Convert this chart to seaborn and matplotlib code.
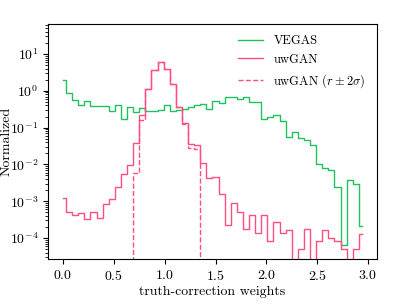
import numpy as np
import pandas as pd
import matplotlib
matplotlib.use("Agg")
import matplotlib.pyplot as plt
import seaborn as sns

plt.rcParams["font.family"] = "serif"
plt.rcParams["font.serif"] = ["cmr10"]
plt.rcParams["mathtext.fontset"] = "cm"
plt.rcParams["axes.formatter.use_mathtext"] = True
plt.rcParams["font.size"] = 10

# 50 bins of width 0.06, bin centres from 0.0 to 2.94
bin_centres = np.arange(50) * 0.06

vegas = [2.02, 0.88, 0.58, 0.42, 0.54, 0.38, 0.39, 0.38, 0.29, 0.42,
         0.175, 0.37, 0.27, 0.35, 0.28, 0.29, 0.30, 0.41, 0.28, 0.30,
         0.33, 0.36, 0.42, 0.43, 0.33, 0.53, 0.46, 0.70, 0.70, 0.60,
         0.67, 0.49, 0.49, 0.175, 0.195, 0.215, 0.153, 0.055, 0.076, 0.053,
         0.046, 0.033, 0.0102, 0.0078, 0.0071, 0.0024, 6.6e-5, 0.0038, 0.003, 2.1e-4]

uwgan = [1.25e-3, 5.2e-4, 4.1e-4, 4.9e-4, 3.2e-4, 5.2e-4, 3.6e-4, 8.3e-4, 1.15e-3, 2.4e-3,
         5.5e-3, 9.5e-3, 0.038, 0.215, 1.1, 3.7, 6.0, 4.0, 1.55, 0.37,
         0.135, 0.037, 0.033, 0.0108, 4.3e-3, 4.6e-3, 1.6e-3, 2.3e-4, 9.2e-4, 5.1e-4,
         1.8e-4, 4.3e-4, 1.38e-4, 4.2e-4, 8.5e-5, 2.7e-4, 1.4e-4, 1.65e-4, 0, 5.1e-5,
         1.8e-4, 0, 8.5e-5, 1.65e-4, 1.0e-4, 8.2e-5, 5.1e-5, 0, 5.1e-5, 1.3e-4]

uwgan_2sigma = [0] * 12 + [0.006, 0.165, 1.1, 3.7, 6.0, 4.0, 1.55, 0.37,
                           0.125, 0.028, 0.027] + [0] * 27

green = "#1fc25e"
pink = "#ff4f7f"

df = pd.DataFrame({"w": bin_centres, "vegas": vegas, "uwgan": uwgan,
                   "uwgan_2s": uwgan_2sigma})

fig = plt.figure(figsize=(4.07, 3.05), dpi=100)
ax = fig.add_axes([0.118, 0.151, 0.808, 0.770])

sns.lineplot(data=df, x="w", y="vegas", color=green, lw=1.0,
             drawstyle="steps-mid", label="VEGAS", ax=ax)
sns.lineplot(data=df, x="w", y="uwgan", color=pink, lw=1.0,
             drawstyle="steps-mid", label="uwGAN", ax=ax)
sns.lineplot(data=df, x="w", y="uwgan_2s", color=pink, lw=1.0, linestyle="--",
             drawstyle="steps-mid", label=r"uwGAN ($r \pm 2\sigma$)", ax=ax)

ax.set_yscale("log")
ax.set_ylim(2.7e-5, 65)
ax.set_xticks([0.0, 0.5, 1.0, 1.5, 2.0, 2.5, 3.0])
ax.set_xlabel("truth-correction weights")
ax.set_ylabel("Normalized")
ax.yaxis.set_label_coords(-0.108, 0.5)
ax.xaxis.set_label_coords(0.5, -0.115)
ax.xaxis.get_offset_text().set_visible(False)
ax.yaxis.get_offset_text().set_visible(False)
ax.legend(loc="upper right", frameon=False, fontsize=9)

fig.savefig("out.png", dpi=100)
